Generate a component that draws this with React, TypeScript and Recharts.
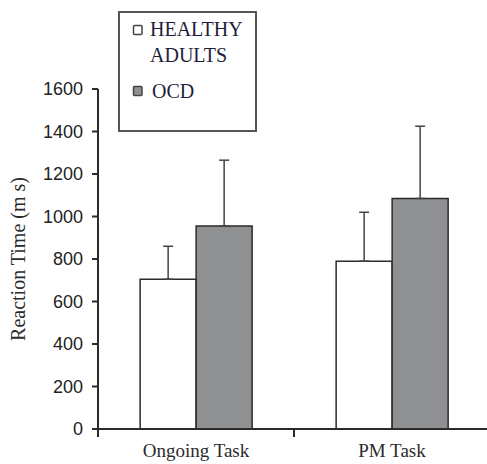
import React from 'react';
import { BarChart, Bar, XAxis, YAxis, ErrorBar, Legend } from 'recharts';

const categories = ['Ongoing Task', 'PM Task'];
const healthyMeans = [705, 790];
const healthyErrors = [155, 230];
const ocdMeans = [955, 1085];
const ocdErrors = [310, 340];
const yTicks = [0, 200, 400, 600, 800, 1000, 1200, 1400, 1600];
const seriesNames = ['HEALTHY ADULTS', 'OCD'];

const data = categories.map((c, i) => ({
  category: c,
  healthy: healthyMeans[i],
  healthyErr: [0, healthyErrors[i]],
  ocd: ocdMeans[i],
  ocdErr: [0, ocdErrors[i]],
}));

const INK = '#2b2b2b';
const SERIF = '"Liberation Serif", "Times New Roman", serif';
const SANS = '"Liberation Sans", Arial, sans-serif';
const HALF_BAND = 98;

const XTick = (props: any) => {
  const { x, y, payload } = props;
  return (
    <g>
      <line x1={x - HALF_BAND} y1={429} x2={x - HALF_BAND} y2={437} stroke={INK} strokeWidth={2} />
      <text x={x} y={y + 20} textAnchor="middle" fontFamily={SERIF} fontSize={19} fill={INK}>
        {payload.value}
      </text>
    </g>
  );
};

const LegendBox = (props: any) => {
  const payload = props.payload || [];
  const rows = [
    { markerY: 19, lines: ['HEALTHY', 'ADULTS'], textX: 32, baseY: 25 },
    { markerY: 80, lines: null as any, textX: 34, baseY: 87 },
  ];
  return (
    <svg width={139} height={121} style={{ display: 'block', background: '#fff' }}>
      <rect x={1} y={1} width={137} height={119} fill="#fff" stroke="#555" strokeWidth={2} />
      {payload.map((p: any, i: number) => {
        const r = rows[i] || rows[1];
        const fill = p.payload && p.payload.fill ? p.payload.fill : p.color;
        const lines = r.lines || [p.value];
        return (
          <g key={i}>
            <rect x={15.5} y={r.markerY - 4.5} width={8.5} height={9} fill={fill} stroke="#444" strokeWidth={1.5} rx={1} />
            <text x={r.textX} y={r.baseY} fontFamily={SERIF} fontSize={20} fill="#1e1e3a">
              {lines.map((ln: string, k: number) => (
                <tspan key={k} x={r.textX} dy={k === 0 ? 0 : 26}>
                  {ln}
                </tspan>
              ))}
            </text>
          </g>
        );
      })}
    </svg>
  );
};

const YLabel = (props: any) => {
  const vb = props.viewBox || { x: 0, y: 89, width: 98, height: 340 };
  const cx = 18;
  const cy = vb.y + vb.height / 2;
  return (
    <text
      x={cx}
      y={cy}
      transform={`rotate(-90 ${cx} ${cy})`}
      textAnchor="middle"
      dominantBaseline="central"
      fontFamily={SERIF}
      fontSize={20}
      fill={INK}
    >
      Reaction Time (m s)
    </text>
  );
};

export default function App() {
  return (
    <div style={{ position: 'absolute', left: 0, top: 0, width: 487, height: 464, overflow: 'hidden', background: '#fff' }}>
      <BarChart
        width={490}
        height={464}
        data={data}
        margin={{ top: 89, right: 0, left: 0, bottom: 0 }}
        barCategoryGap="21.5%"
        barGap={0}
      >
        <XAxis
          dataKey="category"
          height={35}
          axisLine={{ stroke: INK, strokeWidth: 2 }}
          tickLine={false}
          tick={<XTick />}
          interval={0}
        />
        <YAxis
          width={98}
          domain={[0, 1600]}
          ticks={yTicks}
          interval={0}
          axisLine={{ stroke: INK, strokeWidth: 2 }}
          tickLine={{ stroke: INK, strokeWidth: 2 }}
          tickSize={6}
          tickMargin={9}
          tick={{ fontFamily: SANS, fontSize: 18, fill: '#222' }}
          label={<YLabel />}
        />
        <Legend
          layout="horizontal"
          verticalAlign="middle"
          align="center"
          content={<LegendBox />}
          wrapperStyle={{ position: 'absolute', left: 118, top: 11, width: 139, height: 121 }}
        />
        <Bar dataKey="healthy" name={seriesNames[0]} fill="#ffffff" stroke={INK} strokeWidth={1.5} isAnimationActive={false}>
          <ErrorBar dataKey="healthyErr" width={5} stroke="#444" strokeWidth={1.5} direction="y" />
        </Bar>
        <Bar dataKey="ocd" name={seriesNames[1]} fill="#8f9092" stroke={INK} strokeWidth={1.5} isAnimationActive={false}>
          <ErrorBar dataKey="ocdErr" width={5} stroke="#444" strokeWidth={1.5} direction="y" />
        </Bar>
      </BarChart>
    </div>
  );
}
